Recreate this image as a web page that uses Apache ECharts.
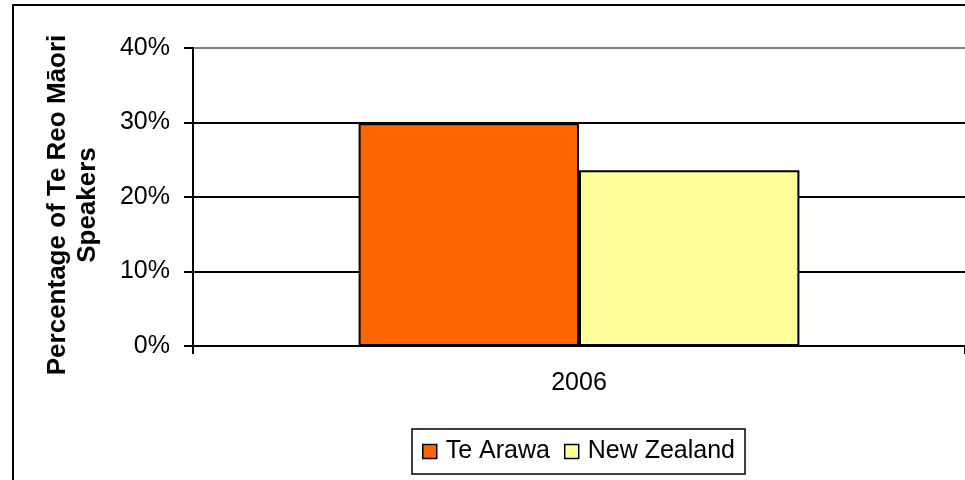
<!DOCTYPE html>
<html>
<head>
<meta charset="utf-8">
<script src="https://cdn.jsdelivr.net/npm/echarts@6/dist/echarts.min.js"></script>
<style>
  html, body { margin: 0; padding: 0; background: #fff; }
  #chart { width: 965px; height: 480px; }
</style>
</head>
<body>
<div id="chart"></div>
<script>
const categories = ['2006'];
const teArawa = [0.299];
const newZealand = [0.236];
const seriesNames = ['Te Arawa', 'New Zealand'];

const chart = echarts.init(document.getElementById('chart'));
const font = 'Liberation Sans, Arial, sans-serif';

const option = {
  animation: false,
  textStyle: { fontFamily: font, color: '#000' },
  graphic: [
    {
      // outer chart-area border (right and bottom fall outside the picture)
      type: 'rect',
      shape: { x: 13, y: 5, width: 1000, height: 1000 },
      style: { fill: 'none', stroke: '#000', lineWidth: 2 },
      silent: true
    }
  ],
  grid: { left: 193, top: 48, width: 774, height: 298 },
  legend: {
    data: seriesNames,
    left: 412,
    top: 429,
    padding: [10, 10, 10, 10],
    itemGap: 14,
    itemWidth: 14,
    itemHeight: 14,
    icon: 'rect',
    borderColor: '#000',
    borderWidth: 1.5,
    itemStyle: { borderColor: '#000', borderWidth: 1.5 },
    textStyle: { fontFamily: font, fontSize: 25, color: '#000', padding: [0, 0, 0, 4] }
  },
  xAxis: {
    type: 'category',
    data: categories,
    axisLine: { lineStyle: { color: '#000', width: 2 } },
    axisTick: { show: true, length: 8, lineStyle: { color: '#000', width: 2 } },
    axisLabel: { fontFamily: font, fontSize: 25, color: '#000', margin: 25 }
  },
  yAxis: {
    type: 'value',
    min: 0,
    max: 0.4,
    interval: 0.1,
    name: 'Percentage of Te Reo Māori\nSpeakers',
    nameLocation: 'middle',
    nameRotate: 90,
    nameGap: 90,
    nameTextStyle: {
      fontFamily: font, fontSize: 26, fontWeight: 'bold', color: '#000',
      lineHeight: 30, padding: [0, 16, 0, 0]
    },
    axisLine: { show: true, lineStyle: { color: '#000', width: 2 } },
    axisTick: { show: true, length: 9, lineStyle: { color: '#000', width: 2 } },
    axisLabel: {
      fontFamily: font, fontSize: 25, color: '#000', margin: 23,
      formatter: v => Math.round(v * 100) + '%'
    },
    splitLine: {
      show: true,
      lineStyle: { color: ['#000', '#000', '#000', '#000', '#808080'], width: 2 }
    }
  },
  series: [
    {
      name: seriesNames[0],
      type: 'bar',
      data: teArawa,
      barGap: '0%',
      barCategoryGap: '42.9%',
      itemStyle: { color: '#FF6600', borderColor: '#000', borderWidth: 2 }
    },
    {
      name: seriesNames[1],
      type: 'bar',
      data: newZealand,
      itemStyle: { color: '#FFFF99', borderColor: '#000', borderWidth: 2 }
    }
  ]
};

chart.setOption(option);
</script>
</body>
</html>
